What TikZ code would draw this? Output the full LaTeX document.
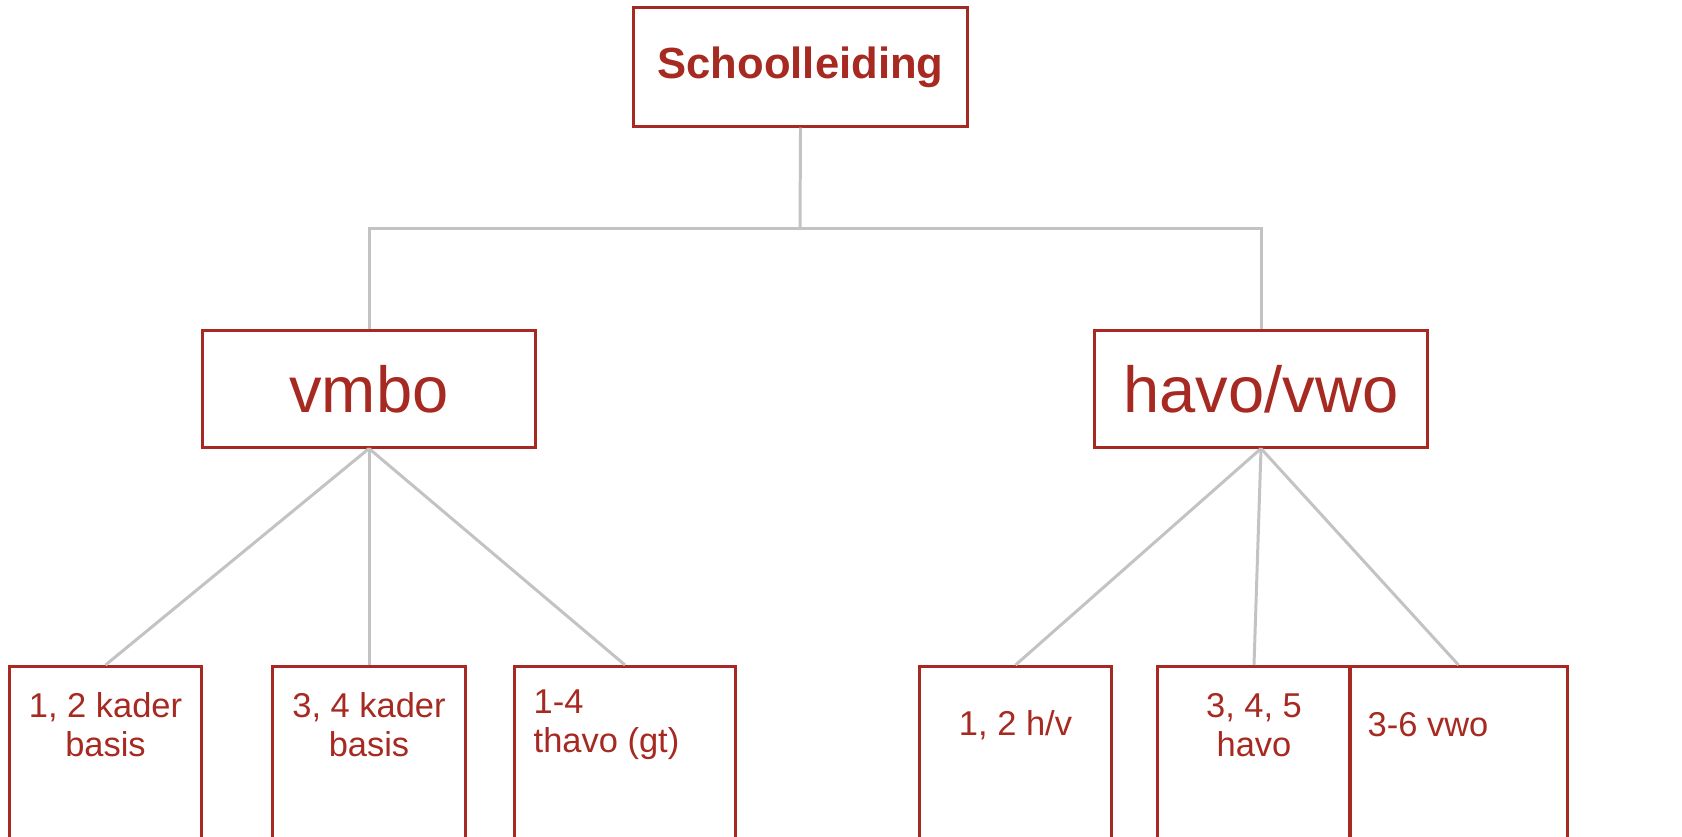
\documentclass[tikz,border=0pt]{standalone}
\usepackage{fontspec}
\setmainfont{Liberation Sans}
\usepackage{xcolor}
\usepackage{tikz}

\definecolor{rood}{HTML}{A62A21}
\definecolor{grijs}{HTML}{C3C3C3}

\tikzset{
	blok/.style={draw=rood, line width=0.85pt, text=rood, rectangle, inner sep=0pt},
	tak/.style={draw=grijs, line width=0.85pt},
	klas/.style={text=rood, align=center, font=\fontsize{9.8}{11.1}\selectfont},
}

\begin{document}
\begin{tikzpicture}[x=0.01cm, y=-0.01cm]

\useasboundingbox (0,0) rectangle (1682,836);

% leiding en afdelingen
\node[blok, minimum width=3.33cm, minimum height=1.18cm, font=\bfseries\fontsize{12.4}{14}\selectfont] (school) at (800.5,67) {Schoolleiding};
\node[blok, minimum width=3.32cm, minimum height=1.16cm, font=\fontsize{18.5}{22}\selectfont] (vmbo) at (369,389) {vmbo};
\node[blok, minimum width=3.32cm, minimum height=1.16cm, font=\fontsize{18.5}{22}\selectfont] (havo) at (1261,389) {havo/vwo};

\coordinate (split) at (800,228);
\draw[tak] (school.south)--(split);
\draw[tak] (split) -| (vmbo.north);
\draw[tak] (split) -| (havo.north);

% klassen (onderkant valt buiten beeld)
\foreach \naam/\x/\b in {k12/105.5/1.91, k34/369/1.92, th/625/2.20, hv12/1015.5/1.91, h345/1254/1.92, v36/1458.5/2.17}{
	\node[blok, anchor=north, minimum width=\b cm, minimum height=2.4cm] (\naam) at (\x,665) {};
}

\node[klas] (k12t) at (105.5,725) {1, 2 kader\\basis};
\node[klas] (k34t) at (369,725) {3, 4 kader\\basis};
\node[klas, align=left, anchor=west, inner sep=0pt] (tht) at (533,725) {1-4\\thavo (gt)};
\node[klas] (hv12t) at (1015.5,725) {1, 2 h/v};
\node[klas] (h345t) at (1254,725) {3, 4, 5\\havo};
\node[klas, anchor=west, inner sep=0pt] (v36t) at (1367,725) {3-6 vwo};

\foreach \k in {k12,k34,th}{
	\draw[tak] (vmbo.south)--(\k.north);
}
\foreach \k in {hv12,h345,v36}{
	\draw[tak] (havo.south)--(\k.north);
}

\end{tikzpicture}
\end{document}
